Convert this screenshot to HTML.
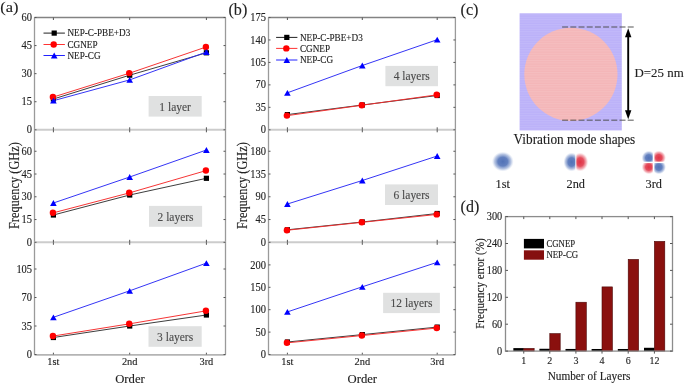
<!DOCTYPE html><html><head><meta charset="utf-8"><style>html,body{margin:0;padding:0;background:#fff;overflow:hidden}svg{display:block;will-change:transform}</style></head><body>
<svg width="685" height="384" viewBox="0 0 685 384" font-family='"Liberation Serif", serif' fill="#222">
<rect width="685" height="384" fill="#fff"/>
<line x1="34.5" y1="17.5" x2="225.5" y2="17.5" stroke="#838383" stroke-width="1.3"/>
<line x1="34.5" y1="354.8" x2="225.5" y2="354.8" stroke="#b4b4b4" stroke-width="1.8"/>
<line x1="34.5" y1="17.5" x2="34.5" y2="354.5" stroke="#9a9a9a" stroke-width="1.3"/>
<line x1="225.5" y1="17.5" x2="225.5" y2="354.5" stroke="#9a9a9a" stroke-width="1.3"/>
<line x1="34.5" y1="129.8" x2="225.5" y2="129.8" stroke="#cccccc" stroke-width="2"/>
<line x1="34.5" y1="242.3" x2="225.5" y2="242.3" stroke="#cccccc" stroke-width="2"/>
<line x1="53.4" y1="17.5" x2="53.4" y2="20.0" stroke="#555" stroke-width="1"/>
<line x1="129.7" y1="17.5" x2="129.7" y2="20.0" stroke="#555" stroke-width="1"/>
<line x1="206.4" y1="17.5" x2="206.4" y2="20.0" stroke="#555" stroke-width="1"/>
<line x1="53.4" y1="129.8" x2="53.4" y2="127.30000000000001" stroke="#555" stroke-width="1"/>
<line x1="53.4" y1="129.8" x2="53.4" y2="132.3" stroke="#555" stroke-width="1"/>
<line x1="129.7" y1="129.8" x2="129.7" y2="127.30000000000001" stroke="#555" stroke-width="1"/>
<line x1="129.7" y1="129.8" x2="129.7" y2="132.3" stroke="#555" stroke-width="1"/>
<line x1="206.4" y1="129.8" x2="206.4" y2="127.30000000000001" stroke="#555" stroke-width="1"/>
<line x1="206.4" y1="129.8" x2="206.4" y2="132.3" stroke="#555" stroke-width="1"/>
<line x1="53.4" y1="242.3" x2="53.4" y2="239.8" stroke="#555" stroke-width="1"/>
<line x1="53.4" y1="242.3" x2="53.4" y2="244.8" stroke="#555" stroke-width="1"/>
<line x1="129.7" y1="242.3" x2="129.7" y2="239.8" stroke="#555" stroke-width="1"/>
<line x1="129.7" y1="242.3" x2="129.7" y2="244.8" stroke="#555" stroke-width="1"/>
<line x1="206.4" y1="242.3" x2="206.4" y2="239.8" stroke="#555" stroke-width="1"/>
<line x1="206.4" y1="242.3" x2="206.4" y2="244.8" stroke="#555" stroke-width="1"/>
<line x1="53.4" y1="354.5" x2="53.4" y2="352.7" stroke="#555" stroke-width="1"/>
<line x1="129.7" y1="354.5" x2="129.7" y2="352.7" stroke="#555" stroke-width="1"/>
<line x1="206.4" y1="354.5" x2="206.4" y2="352.7" stroke="#555" stroke-width="1"/>
<line x1="34.5" y1="129.8" x2="36.5" y2="129.8" stroke="#555" stroke-width="1"/>
<line x1="225.5" y1="129.8" x2="223.5" y2="129.8" stroke="#555" stroke-width="1"/>
<text transform="translate(32.1 133.4) scale(1 1.12)" font-size="10.5" text-anchor="end" stroke="#222" stroke-width="0.12">0</text>
<line x1="34.5" y1="101.72500000000001" x2="36.5" y2="101.72500000000001" stroke="#555" stroke-width="1"/>
<line x1="225.5" y1="101.72500000000001" x2="223.5" y2="101.72500000000001" stroke="#555" stroke-width="1"/>
<text transform="translate(32.1 105.33) scale(1 1.12)" font-size="10.5" text-anchor="end" stroke="#222" stroke-width="0.12">15</text>
<line x1="34.5" y1="73.65" x2="36.5" y2="73.65" stroke="#555" stroke-width="1"/>
<line x1="225.5" y1="73.65" x2="223.5" y2="73.65" stroke="#555" stroke-width="1"/>
<text transform="translate(32.1 77.25) scale(1 1.12)" font-size="10.5" text-anchor="end" stroke="#222" stroke-width="0.12">30</text>
<line x1="34.5" y1="45.57500000000002" x2="36.5" y2="45.57500000000002" stroke="#555" stroke-width="1"/>
<line x1="225.5" y1="45.57500000000002" x2="223.5" y2="45.57500000000002" stroke="#555" stroke-width="1"/>
<text transform="translate(32.1 49.18) scale(1 1.12)" font-size="10.5" text-anchor="end" stroke="#222" stroke-width="0.12">45</text>
<line x1="34.5" y1="17.500000000000014" x2="36.5" y2="17.500000000000014" stroke="#555" stroke-width="1"/>
<line x1="225.5" y1="17.500000000000014" x2="223.5" y2="17.500000000000014" stroke="#555" stroke-width="1"/>
<text transform="translate(32.1 21.1) scale(1 1.12)" font-size="10.5" text-anchor="end" stroke="#222" stroke-width="0.12">60</text>
<line x1="34.5" y1="242.3" x2="36.5" y2="242.3" stroke="#555" stroke-width="1"/>
<line x1="225.5" y1="242.3" x2="223.5" y2="242.3" stroke="#555" stroke-width="1"/>
<text transform="translate(32.1 245.9) scale(1 1.12)" font-size="10.5" text-anchor="end" stroke="#222" stroke-width="0.12">0</text>
<line x1="34.5" y1="219.54000000000002" x2="36.5" y2="219.54000000000002" stroke="#555" stroke-width="1"/>
<line x1="225.5" y1="219.54000000000002" x2="223.5" y2="219.54000000000002" stroke="#555" stroke-width="1"/>
<text transform="translate(32.1 223.14) scale(1 1.12)" font-size="10.5" text-anchor="end" stroke="#222" stroke-width="0.12">15</text>
<line x1="34.5" y1="196.78" x2="36.5" y2="196.78" stroke="#555" stroke-width="1"/>
<line x1="225.5" y1="196.78" x2="223.5" y2="196.78" stroke="#555" stroke-width="1"/>
<text transform="translate(32.1 200.38) scale(1 1.12)" font-size="10.5" text-anchor="end" stroke="#222" stroke-width="0.12">30</text>
<line x1="34.5" y1="174.02" x2="36.5" y2="174.02" stroke="#555" stroke-width="1"/>
<line x1="225.5" y1="174.02" x2="223.5" y2="174.02" stroke="#555" stroke-width="1"/>
<text transform="translate(32.1 177.62) scale(1 1.12)" font-size="10.5" text-anchor="end" stroke="#222" stroke-width="0.12">45</text>
<line x1="34.5" y1="151.26" x2="36.5" y2="151.26" stroke="#555" stroke-width="1"/>
<line x1="225.5" y1="151.26" x2="223.5" y2="151.26" stroke="#555" stroke-width="1"/>
<text transform="translate(32.1 154.86) scale(1 1.12)" font-size="10.5" text-anchor="end" stroke="#222" stroke-width="0.12">60</text>
<line x1="34.5" y1="354.5" x2="36.5" y2="354.5" stroke="#555" stroke-width="1"/>
<line x1="225.5" y1="354.5" x2="223.5" y2="354.5" stroke="#555" stroke-width="1"/>
<text transform="translate(32.1 358.1) scale(1 1.12)" font-size="10.5" text-anchor="end" stroke="#222" stroke-width="0.12">0</text>
<line x1="34.5" y1="326.0" x2="36.5" y2="326.0" stroke="#555" stroke-width="1"/>
<line x1="225.5" y1="326.0" x2="223.5" y2="326.0" stroke="#555" stroke-width="1"/>
<text transform="translate(32.1 329.6) scale(1 1.12)" font-size="10.5" text-anchor="end" stroke="#222" stroke-width="0.12">35</text>
<line x1="34.5" y1="297.5" x2="36.5" y2="297.5" stroke="#555" stroke-width="1"/>
<line x1="225.5" y1="297.5" x2="223.5" y2="297.5" stroke="#555" stroke-width="1"/>
<text transform="translate(32.1 301.1) scale(1 1.12)" font-size="10.5" text-anchor="end" stroke="#222" stroke-width="0.12">70</text>
<line x1="34.5" y1="269.0" x2="36.5" y2="269.0" stroke="#555" stroke-width="1"/>
<line x1="225.5" y1="269.0" x2="223.5" y2="269.0" stroke="#555" stroke-width="1"/>
<text transform="translate(32.1 272.6) scale(1 1.12)" font-size="10.5" text-anchor="end" stroke="#222" stroke-width="0.12">105</text>
<polyline points="53.4,99 129.7,75.2 206.4,52.8" fill="none" stroke="#333" stroke-width="0.95"/>
<rect x="50.8" y="96.4" width="5.2" height="5.2" fill="#000"/>
<rect x="127.1" y="72.6" width="5.2" height="5.2" fill="#000"/>
<rect x="203.8" y="50.2" width="5.2" height="5.2" fill="#000"/>
<polyline points="53.4,97 129.7,73.1 206.4,46.9" fill="none" stroke="#f42a2a" stroke-width="0.95"/>
<circle cx="52.9" cy="97" r="3.2" fill="#f00"/>
<circle cx="129.2" cy="73.1" r="3.2" fill="#f00"/>
<circle cx="205.9" cy="46.9" r="3.2" fill="#f00"/>
<polyline points="53.4,100.7 129.7,79.9 206.4,52" fill="none" stroke="#2a2af4" stroke-width="0.95"/>
<polygon points="50.1,103.6 56.7,103.6 53.4,97.8" fill="#00f"/>
<polygon points="126.4,82.8 133,82.8 129.7,77" fill="#00f"/>
<polygon points="203.1,54.9 209.7,54.9 206.4,49.1" fill="#00f"/>
<polyline points="53.4,215 129.7,195 206.4,178.3" fill="none" stroke="#333" stroke-width="0.95"/>
<rect x="50.8" y="212.4" width="5.2" height="5.2" fill="#000"/>
<rect x="127.1" y="192.4" width="5.2" height="5.2" fill="#000"/>
<rect x="203.8" y="175.7" width="5.2" height="5.2" fill="#000"/>
<polyline points="53.4,212.8 129.7,192.8 206.4,170.5" fill="none" stroke="#f42a2a" stroke-width="0.95"/>
<circle cx="52.9" cy="212.8" r="3.2" fill="#f00"/>
<circle cx="129.2" cy="192.8" r="3.2" fill="#f00"/>
<circle cx="205.9" cy="170.5" r="3.2" fill="#f00"/>
<polyline points="53.4,203 129.7,177 206.4,150" fill="none" stroke="#2a2af4" stroke-width="0.95"/>
<polygon points="50.1,205.9 56.7,205.9 53.4,200.1" fill="#00f"/>
<polygon points="126.4,179.9 133,179.9 129.7,174.1" fill="#00f"/>
<polygon points="203.1,152.9 209.7,152.9 206.4,147.1" fill="#00f"/>
<polyline points="53.4,337.5 129.7,326 206.4,315" fill="none" stroke="#333" stroke-width="0.95"/>
<rect x="50.8" y="334.9" width="5.2" height="5.2" fill="#000"/>
<rect x="127.1" y="323.4" width="5.2" height="5.2" fill="#000"/>
<rect x="203.8" y="312.4" width="5.2" height="5.2" fill="#000"/>
<polyline points="53.4,336 129.7,323.8 206.4,310.8" fill="none" stroke="#f42a2a" stroke-width="0.95"/>
<circle cx="52.9" cy="336" r="3.2" fill="#f00"/>
<circle cx="129.2" cy="323.8" r="3.2" fill="#f00"/>
<circle cx="205.9" cy="310.8" r="3.2" fill="#f00"/>
<polyline points="53.4,317.3 129.7,290.8 206.4,263.1" fill="none" stroke="#2a2af4" stroke-width="0.95"/>
<polygon points="50.1,320.2 56.7,320.2 53.4,314.4" fill="#00f"/>
<polygon points="126.4,293.7 133,293.7 129.7,287.9" fill="#00f"/>
<polygon points="203.1,266 209.7,266 206.4,260.2" fill="#00f"/>
<line x1="43.5" y1="33.1" x2="64.9" y2="33.1" stroke="#222" stroke-width="1"/>
<rect x="51.6" y="30.5" width="5.2" height="5.2" fill="#000"/>
<text transform="translate(67.4 36.4) scale(1 1.12)" font-size="9.2" stroke="#222" stroke-width="0.12">NEP-C-PBE+D3</text>
<line x1="43.5" y1="44.5" x2="64.9" y2="44.5" stroke="#f33" stroke-width="1"/>
<circle cx="53.7" cy="44.5" r="3.2" fill="#f00"/>
<text transform="translate(67.4 47.8) scale(1 1.12)" font-size="9.2" stroke="#222" stroke-width="0.12">CGNEP</text>
<line x1="43.5" y1="55.5" x2="64.9" y2="55.5" stroke="#22f" stroke-width="1"/>
<polygon points="50.9,58.4 57.5,58.4 54.2,52.6" fill="#00f"/>
<text transform="translate(67.4 58.8) scale(1 1.12)" font-size="9.2" stroke="#222" stroke-width="0.12">NEP-CG</text>
<rect x="148.6" y="96" width="53.1" height="20.6" fill="#e0e1e1"/>
<text transform="translate(175.15 110.7) scale(1 1.12)" font-size="11.5" text-anchor="middle" fill="#4a4a4a" stroke="#4a4a4a" stroke-width="0.12">1 layer</text>
<rect x="149" y="205.9" width="53.1" height="20.9" fill="#e0e1e1"/>
<text transform="translate(175.55 220.8) scale(1 1.12)" font-size="11.5" text-anchor="middle" fill="#4a4a4a" stroke="#4a4a4a" stroke-width="0.12">2 layers</text>
<rect x="148.5" y="326.2" width="53.2" height="20.6" fill="#e0e1e1"/>
<text transform="translate(175.1 340.8) scale(1 1.12)" font-size="11.5" text-anchor="middle" fill="#4a4a4a" stroke="#4a4a4a" stroke-width="0.12">3 layers</text>
<text transform="translate(53.4 365) scale(1 1.04)" font-size="10.4" text-anchor="middle" stroke="#222" stroke-width="0.12">1st</text>
<text transform="translate(129.7 365) scale(1 1.04)" font-size="10.4" text-anchor="middle" stroke="#222" stroke-width="0.12">2nd</text>
<text transform="translate(206.4 365) scale(1 1.04)" font-size="10.4" text-anchor="middle" stroke="#222" stroke-width="0.12">3rd</text>
<text transform="translate(130 383.3) scale(1 1.02)" font-size="12.7" text-anchor="middle" stroke="#222" stroke-width="0.12">Order</text>
<text transform="translate(18.5 185.6) rotate(-90) scale(1 1.12)" font-size="12.4" text-anchor="middle" stroke="#222" stroke-width="0.12">Frequency (GHz)</text>
<text transform="translate(0.3 11.9) scale(1 0.95)" font-size="16.4" stroke="#222" stroke-width="0.12">(a)</text>
<line x1="268.5" y1="17.5" x2="455.4" y2="17.5" stroke="#838383" stroke-width="1.3"/>
<line x1="268.5" y1="354.8" x2="455.4" y2="354.8" stroke="#b4b4b4" stroke-width="1.8"/>
<line x1="268.5" y1="17.5" x2="268.5" y2="354.5" stroke="#9a9a9a" stroke-width="1.3"/>
<line x1="455.4" y1="17.5" x2="455.4" y2="354.5" stroke="#9a9a9a" stroke-width="1.3"/>
<line x1="268.5" y1="129.8" x2="455.4" y2="129.8" stroke="#cccccc" stroke-width="2"/>
<line x1="268.5" y1="242.3" x2="455.4" y2="242.3" stroke="#cccccc" stroke-width="2"/>
<line x1="287.4" y1="17.5" x2="287.4" y2="20.0" stroke="#555" stroke-width="1"/>
<line x1="362.3" y1="17.5" x2="362.3" y2="20.0" stroke="#555" stroke-width="1"/>
<line x1="437.2" y1="17.5" x2="437.2" y2="20.0" stroke="#555" stroke-width="1"/>
<line x1="287.4" y1="129.8" x2="287.4" y2="127.30000000000001" stroke="#555" stroke-width="1"/>
<line x1="287.4" y1="129.8" x2="287.4" y2="132.3" stroke="#555" stroke-width="1"/>
<line x1="362.3" y1="129.8" x2="362.3" y2="127.30000000000001" stroke="#555" stroke-width="1"/>
<line x1="362.3" y1="129.8" x2="362.3" y2="132.3" stroke="#555" stroke-width="1"/>
<line x1="437.2" y1="129.8" x2="437.2" y2="127.30000000000001" stroke="#555" stroke-width="1"/>
<line x1="437.2" y1="129.8" x2="437.2" y2="132.3" stroke="#555" stroke-width="1"/>
<line x1="287.4" y1="242.3" x2="287.4" y2="239.8" stroke="#555" stroke-width="1"/>
<line x1="287.4" y1="242.3" x2="287.4" y2="244.8" stroke="#555" stroke-width="1"/>
<line x1="362.3" y1="242.3" x2="362.3" y2="239.8" stroke="#555" stroke-width="1"/>
<line x1="362.3" y1="242.3" x2="362.3" y2="244.8" stroke="#555" stroke-width="1"/>
<line x1="437.2" y1="242.3" x2="437.2" y2="239.8" stroke="#555" stroke-width="1"/>
<line x1="437.2" y1="242.3" x2="437.2" y2="244.8" stroke="#555" stroke-width="1"/>
<line x1="287.4" y1="354.5" x2="287.4" y2="352.7" stroke="#555" stroke-width="1"/>
<line x1="362.3" y1="354.5" x2="362.3" y2="352.7" stroke="#555" stroke-width="1"/>
<line x1="437.2" y1="354.5" x2="437.2" y2="352.7" stroke="#555" stroke-width="1"/>
<line x1="268.5" y1="129.8" x2="270.5" y2="129.8" stroke="#555" stroke-width="1"/>
<line x1="455.4" y1="129.8" x2="453.4" y2="129.8" stroke="#555" stroke-width="1"/>
<text transform="translate(266 133.4) scale(1 1.12)" font-size="10.5" text-anchor="end" stroke="#222" stroke-width="0.12">0</text>
<line x1="268.5" y1="107.34" x2="270.5" y2="107.34" stroke="#555" stroke-width="1"/>
<line x1="455.4" y1="107.34" x2="453.4" y2="107.34" stroke="#555" stroke-width="1"/>
<text transform="translate(266 110.94) scale(1 1.12)" font-size="10.5" text-anchor="end" stroke="#222" stroke-width="0.12">35</text>
<line x1="268.5" y1="84.88000000000001" x2="270.5" y2="84.88000000000001" stroke="#555" stroke-width="1"/>
<line x1="455.4" y1="84.88000000000001" x2="453.4" y2="84.88000000000001" stroke="#555" stroke-width="1"/>
<text transform="translate(266 88.48) scale(1 1.12)" font-size="10.5" text-anchor="end" stroke="#222" stroke-width="0.12">70</text>
<line x1="268.5" y1="62.420000000000016" x2="270.5" y2="62.420000000000016" stroke="#555" stroke-width="1"/>
<line x1="455.4" y1="62.420000000000016" x2="453.4" y2="62.420000000000016" stroke="#555" stroke-width="1"/>
<text transform="translate(266 66.02) scale(1 1.12)" font-size="10.5" text-anchor="end" stroke="#222" stroke-width="0.12">105</text>
<line x1="268.5" y1="39.96000000000001" x2="270.5" y2="39.96000000000001" stroke="#555" stroke-width="1"/>
<line x1="455.4" y1="39.96000000000001" x2="453.4" y2="39.96000000000001" stroke="#555" stroke-width="1"/>
<text transform="translate(266 43.56) scale(1 1.12)" font-size="10.5" text-anchor="end" stroke="#222" stroke-width="0.12">140</text>
<line x1="268.5" y1="17.5" x2="270.5" y2="17.5" stroke="#555" stroke-width="1"/>
<line x1="455.4" y1="17.5" x2="453.4" y2="17.5" stroke="#555" stroke-width="1"/>
<text transform="translate(266 21.1) scale(1 1.12)" font-size="10.5" text-anchor="end" stroke="#222" stroke-width="0.12">175</text>
<line x1="268.5" y1="242.3" x2="270.5" y2="242.3" stroke="#555" stroke-width="1"/>
<line x1="455.4" y1="242.3" x2="453.4" y2="242.3" stroke="#555" stroke-width="1"/>
<text transform="translate(266 245.9) scale(1 1.12)" font-size="10.5" text-anchor="end" stroke="#222" stroke-width="0.12">0</text>
<line x1="268.5" y1="219.54000000000002" x2="270.5" y2="219.54000000000002" stroke="#555" stroke-width="1"/>
<line x1="455.4" y1="219.54000000000002" x2="453.4" y2="219.54000000000002" stroke="#555" stroke-width="1"/>
<text transform="translate(266 223.14) scale(1 1.12)" font-size="10.5" text-anchor="end" stroke="#222" stroke-width="0.12">45</text>
<line x1="268.5" y1="196.78" x2="270.5" y2="196.78" stroke="#555" stroke-width="1"/>
<line x1="455.4" y1="196.78" x2="453.4" y2="196.78" stroke="#555" stroke-width="1"/>
<text transform="translate(266 200.38) scale(1 1.12)" font-size="10.5" text-anchor="end" stroke="#222" stroke-width="0.12">90</text>
<line x1="268.5" y1="174.02" x2="270.5" y2="174.02" stroke="#555" stroke-width="1"/>
<line x1="455.4" y1="174.02" x2="453.4" y2="174.02" stroke="#555" stroke-width="1"/>
<text transform="translate(266 177.62) scale(1 1.12)" font-size="10.5" text-anchor="end" stroke="#222" stroke-width="0.12">135</text>
<line x1="268.5" y1="151.26" x2="270.5" y2="151.26" stroke="#555" stroke-width="1"/>
<line x1="455.4" y1="151.26" x2="453.4" y2="151.26" stroke="#555" stroke-width="1"/>
<text transform="translate(266 154.86) scale(1 1.12)" font-size="10.5" text-anchor="end" stroke="#222" stroke-width="0.12">180</text>
<line x1="268.5" y1="354.5" x2="270.5" y2="354.5" stroke="#555" stroke-width="1"/>
<line x1="455.4" y1="354.5" x2="453.4" y2="354.5" stroke="#555" stroke-width="1"/>
<text transform="translate(266 358.1) scale(1 1.12)" font-size="10.5" text-anchor="end" stroke="#222" stroke-width="0.12">0</text>
<line x1="268.5" y1="332.1" x2="270.5" y2="332.1" stroke="#555" stroke-width="1"/>
<line x1="455.4" y1="332.1" x2="453.4" y2="332.1" stroke="#555" stroke-width="1"/>
<text transform="translate(266 335.7) scale(1 1.12)" font-size="10.5" text-anchor="end" stroke="#222" stroke-width="0.12">50</text>
<line x1="268.5" y1="309.7" x2="270.5" y2="309.7" stroke="#555" stroke-width="1"/>
<line x1="455.4" y1="309.7" x2="453.4" y2="309.7" stroke="#555" stroke-width="1"/>
<text transform="translate(266 313.3) scale(1 1.12)" font-size="10.5" text-anchor="end" stroke="#222" stroke-width="0.12">100</text>
<line x1="268.5" y1="287.3" x2="270.5" y2="287.3" stroke="#555" stroke-width="1"/>
<line x1="455.4" y1="287.3" x2="453.4" y2="287.3" stroke="#555" stroke-width="1"/>
<text transform="translate(266 290.9) scale(1 1.12)" font-size="10.5" text-anchor="end" stroke="#222" stroke-width="0.12">150</text>
<line x1="268.5" y1="264.9" x2="270.5" y2="264.9" stroke="#555" stroke-width="1"/>
<line x1="455.4" y1="264.9" x2="453.4" y2="264.9" stroke="#555" stroke-width="1"/>
<text transform="translate(266 268.5) scale(1 1.12)" font-size="10.5" text-anchor="end" stroke="#222" stroke-width="0.12">200</text>
<polyline points="287.4,114.6 362.3,105 437.2,95.5" fill="none" stroke="#333" stroke-width="0.95"/>
<rect x="284.8" y="112" width="5.2" height="5.2" fill="#000"/>
<rect x="359.7" y="102.4" width="5.2" height="5.2" fill="#000"/>
<rect x="434.6" y="92.9" width="5.2" height="5.2" fill="#000"/>
<polyline points="287.4,115.6 362.3,105.2 437.2,94.8" fill="none" stroke="#f42a2a" stroke-width="0.95"/>
<circle cx="286.9" cy="115.6" r="3.2" fill="#f00"/>
<circle cx="361.8" cy="105.2" r="3.2" fill="#f00"/>
<circle cx="436.7" cy="94.8" r="3.2" fill="#f00"/>
<polyline points="287.4,92.8 362.3,65.5 437.2,39.7" fill="none" stroke="#2a2af4" stroke-width="0.95"/>
<polygon points="284.1,95.7 290.7,95.7 287.4,89.9" fill="#00f"/>
<polygon points="359,68.4 365.6,68.4 362.3,62.6" fill="#00f"/>
<polygon points="433.9,42.6 440.5,42.6 437.2,36.8" fill="#00f"/>
<polyline points="287.4,229.8 362.3,222 437.2,213.5" fill="none" stroke="#333" stroke-width="0.95"/>
<rect x="284.8" y="227.2" width="5.2" height="5.2" fill="#000"/>
<rect x="359.7" y="219.4" width="5.2" height="5.2" fill="#000"/>
<rect x="434.6" y="210.9" width="5.2" height="5.2" fill="#000"/>
<polyline points="287.4,230.2 362.3,222.3 437.2,214.4" fill="none" stroke="#f42a2a" stroke-width="0.95"/>
<circle cx="286.9" cy="230.2" r="3.2" fill="#f00"/>
<circle cx="361.8" cy="222.3" r="3.2" fill="#f00"/>
<circle cx="436.7" cy="214.4" r="3.2" fill="#f00"/>
<polyline points="287.4,204 362.3,180.5 437.2,156" fill="none" stroke="#2a2af4" stroke-width="0.95"/>
<polygon points="284.1,206.9 290.7,206.9 287.4,201.1" fill="#00f"/>
<polygon points="359,183.4 365.6,183.4 362.3,177.6" fill="#00f"/>
<polygon points="433.9,158.9 440.5,158.9 437.2,153.1" fill="#00f"/>
<polyline points="287.4,342.0 362.3,334.6 437.2,327.1" fill="none" stroke="#333" stroke-width="0.95"/>
<rect x="284.8" y="339.4" width="5.2" height="5.2" fill="#000"/>
<rect x="359.7" y="332" width="5.2" height="5.2" fill="#000"/>
<rect x="434.6" y="324.5" width="5.2" height="5.2" fill="#000"/>
<polyline points="287.4,342.8 362.3,335.5 437.2,328.0" fill="none" stroke="#f42a2a" stroke-width="0.95"/>
<circle cx="286.9" cy="342.8" r="3.2" fill="#f00"/>
<circle cx="361.8" cy="335.5" r="3.2" fill="#f00"/>
<circle cx="436.7" cy="328.0" r="3.2" fill="#f00"/>
<polyline points="287.4,311.9 362.3,286.8 437.2,262.3" fill="none" stroke="#2a2af4" stroke-width="0.95"/>
<polygon points="284.1,314.8 290.7,314.8 287.4,309" fill="#00f"/>
<polygon points="359,289.7 365.6,289.7 362.3,283.9" fill="#00f"/>
<polygon points="433.9,265.2 440.5,265.2 437.2,259.4" fill="#00f"/>
<line x1="276.1" y1="37.4" x2="297.4" y2="37.4" stroke="#222" stroke-width="1"/>
<rect x="284.2" y="34.8" width="5.2" height="5.2" fill="#000"/>
<text transform="translate(299.9 40.7) scale(1 1.12)" font-size="9.2" stroke="#222" stroke-width="0.12">NEP-C-PBE+D3</text>
<line x1="276.1" y1="48.4" x2="297.4" y2="48.4" stroke="#f33" stroke-width="1"/>
<circle cx="286.3" cy="48.4" r="3.2" fill="#f00"/>
<text transform="translate(299.9 51.7) scale(1 1.12)" font-size="9.2" stroke="#222" stroke-width="0.12">CGNEP</text>
<line x1="276.1" y1="60" x2="297.4" y2="60" stroke="#22f" stroke-width="1"/>
<polygon points="283.5,62.9 290.1,62.9 286.8,57.1" fill="#00f"/>
<text transform="translate(299.9 63.3) scale(1 1.12)" font-size="9.2" stroke="#222" stroke-width="0.12">NEP-CG</text>
<rect x="385.4" y="65.9" width="52.6" height="20.3" fill="#e0e1e1"/>
<text transform="translate(411.7 80.3) scale(1 1.12)" font-size="11.5" text-anchor="middle" fill="#4a4a4a" stroke="#4a4a4a" stroke-width="0.12">4 layers</text>
<rect x="385" y="184.4" width="53" height="20.6" fill="#e0e1e1"/>
<text transform="translate(411.5 199) scale(1 1.12)" font-size="11.5" text-anchor="middle" fill="#4a4a4a" stroke="#4a4a4a" stroke-width="0.12">6 layers</text>
<rect x="383.1" y="292.8" width="56.8" height="20.3" fill="#e0e1e1"/>
<text transform="translate(411.5 307.2) scale(1 1.12)" font-size="11.5" text-anchor="middle" fill="#4a4a4a" stroke="#4a4a4a" stroke-width="0.12">12 layers</text>
<text transform="translate(287.4 365) scale(1 1.04)" font-size="10.4" text-anchor="middle" stroke="#222" stroke-width="0.12">1st</text>
<text transform="translate(362.3 365) scale(1 1.04)" font-size="10.4" text-anchor="middle" stroke="#222" stroke-width="0.12">2nd</text>
<text transform="translate(437.2 365) scale(1 1.04)" font-size="10.4" text-anchor="middle" stroke="#222" stroke-width="0.12">3rd</text>
<text transform="translate(362.3 383.3) scale(1 1.02)" font-size="12.7" text-anchor="middle" stroke="#222" stroke-width="0.12">Order</text>
<text transform="translate(247.2 185.6) rotate(-90) scale(1 1.12)" font-size="12.4" text-anchor="middle" stroke="#222" stroke-width="0.12">Frequency (GHz)</text>
<text transform="translate(228.4 14.5) scale(1 0.97)" font-size="16.2" stroke="#222" stroke-width="0.12">(b)</text>
<text transform="translate(460.5 15.2) scale(1 1.0)" font-size="16.2" stroke="#222" stroke-width="0.12">(c)</text>
<defs><pattern id="stp" width="5" height="2.4" patternUnits="userSpaceOnUse"><rect width="5" height="1.0" fill="#fff" fill-opacity="0.10"/></pattern><radialGradient id="gb"><stop offset="0" stop-color="#4c6db4" stop-opacity="0.97"/><stop offset="0.45" stop-color="#5676ba" stop-opacity="0.92"/><stop offset="0.75" stop-color="#7f98cc" stop-opacity="0.55"/><stop offset="1" stop-color="#c0cfea" stop-opacity="0"/></radialGradient><radialGradient id="gr"><stop offset="0" stop-color="#df2c3e" stop-opacity="0.97"/><stop offset="0.45" stop-color="#e23e50" stop-opacity="0.92"/><stop offset="0.75" stop-color="#ea7884" stop-opacity="0.55"/><stop offset="1" stop-color="#f6cdd2" stop-opacity="0"/></radialGradient><clipPath id="c2l"><rect x="560" y="145" width="15.4" height="35"/></clipPath><clipPath id="c2r"><rect x="576.3" y="145" width="15" height="35"/></clipPath><clipPath id="c3tl"><rect x="638" y="148" width="14.8" height="13.7"/></clipPath><clipPath id="c3tr"><rect x="654.3" y="148" width="15" height="13.7"/></clipPath><clipPath id="c3bl"><rect x="638" y="163.1" width="14.8" height="14"/></clipPath><clipPath id="c3br"><rect x="654.3" y="163.1" width="15" height="14"/></clipPath></defs>
<rect x="519.6" y="13.3" width="102.2" height="117.1" fill="#bbb1f9"/>
<circle cx="570.9" cy="74.35" r="46.6" fill="#f4b6b8"/>
<rect x="519.6" y="13.3" width="102.2" height="117.1" fill="url(#stp)"/>
<line x1="562.1" y1="27" x2="634.3" y2="27" stroke="#444" stroke-opacity="0.6" stroke-width="1.6" stroke-dasharray="6 2.2"/>
<line x1="562.1" y1="120.3" x2="634.3" y2="120.3" stroke="#444" stroke-opacity="0.6" stroke-width="1.6" stroke-dasharray="6 2.2"/>
<line x1="628.2" y1="35" x2="628.2" y2="112" stroke="#000" stroke-width="1.9"/>
<polygon points="628.2,28.3 625,37.2 631.4,37.2" fill="#000"/>
<polygon points="628.2,119.2 625,110.3 631.4,110.3" fill="#000"/>
<text transform="translate(634.5 76.7) scale(1 1.0)" font-size="12.9" stroke="#222" stroke-width="0.12">D=25 nm</text>
<text transform="translate(574.4 144.1) scale(1 1.05)" font-size="13.3" text-anchor="middle" stroke="#222" stroke-width="0.12">Vibration mode shapes</text>
<ellipse cx="502.8" cy="161.6" rx="11" ry="10" fill="url(#gb)"/>
<ellipse cx="571.6" cy="162.0" rx="8.2" ry="9.6" fill="url(#gb)" clip-path="url(#c2l)"/>
<ellipse cx="580.2" cy="162.0" rx="8.2" ry="9.6" fill="url(#gr)" clip-path="url(#c2r)"/>
<circle cx="648.8" cy="157.9" r="7.3" fill="url(#gb)" clip-path="url(#c3tl)"/>
<circle cx="658.8" cy="157.7" r="7.3" fill="url(#gr)" clip-path="url(#c3tr)"/>
<circle cx="648.8" cy="167.1" r="7.3" fill="url(#gr)" clip-path="url(#c3bl)"/>
<circle cx="658.8" cy="167.1" r="7.3" fill="url(#gb)" clip-path="url(#c3br)"/>
<text transform="translate(502.8 187.5) scale(1 1.05)" font-size="12.3" text-anchor="middle" stroke="#222" stroke-width="0.12">1st</text>
<text transform="translate(575.7 187.5) scale(1 1.05)" font-size="12.3" text-anchor="middle" stroke="#222" stroke-width="0.12">2nd</text>
<text transform="translate(653.8 188.2) scale(1 1.05)" font-size="12.3" text-anchor="middle" stroke="#222" stroke-width="0.12">3rd</text>
<text transform="translate(460.6 211.7) scale(1 1.07)" font-size="16" stroke="#222" stroke-width="0.12">(d)</text>
<rect x="513.35" y="348.1" width="10.4" height="3" fill="#000"/>
<rect x="523.75" y="348.41" width="10.4" height="2.69" fill="#8a100e" stroke="#4a0505" stroke-width="0.6"/>
<rect x="539.4" y="348.77" width="10.4" height="2.33" fill="#000"/>
<rect x="549.8" y="333.62" width="10.4" height="17.49" fill="#8a100e" stroke="#4a0505" stroke-width="0.6"/>
<rect x="565.5" y="348.95" width="10.4" height="2.15" fill="#000"/>
<rect x="575.9" y="302.23" width="10.4" height="48.87" fill="#8a100e" stroke="#4a0505" stroke-width="0.6"/>
<rect x="591.6" y="348.99" width="10.4" height="2.11" fill="#000"/>
<rect x="602" y="286.9" width="10.4" height="64.2" fill="#8a100e" stroke="#4a0505" stroke-width="0.6"/>
<rect x="617.8" y="348.99" width="10.4" height="2.11" fill="#000"/>
<rect x="628.2" y="259.42" width="10.4" height="91.68" fill="#8a100e" stroke="#4a0505" stroke-width="0.6"/>
<rect x="644" y="347.78" width="10.4" height="3.32" fill="#000"/>
<rect x="654.4" y="241.39" width="10.4" height="109.71" fill="#8a100e" stroke="#4a0505" stroke-width="0.6"/>
<rect x="505.5" y="216.6" width="167.0" height="134.5" fill="none" stroke="#8c8c8c" stroke-width="1.3"/>
<line x1="505.5" y1="351.1" x2="508.0" y2="351.1" stroke="#555" stroke-width="1"/>
<line x1="672.5" y1="351.1" x2="670.0" y2="351.1" stroke="#555" stroke-width="1"/>
<text transform="translate(502.2 354.7) scale(1 1.12)" font-size="10.3" text-anchor="end" stroke="#222" stroke-width="0.12">0</text>
<line x1="505.5" y1="324.2" x2="508.0" y2="324.2" stroke="#555" stroke-width="1"/>
<line x1="672.5" y1="324.2" x2="670.0" y2="324.2" stroke="#555" stroke-width="1"/>
<text transform="translate(502.2 327.8) scale(1 1.12)" font-size="10.3" text-anchor="end" stroke="#222" stroke-width="0.12">60</text>
<line x1="505.5" y1="297.3" x2="508.0" y2="297.3" stroke="#555" stroke-width="1"/>
<line x1="672.5" y1="297.3" x2="670.0" y2="297.3" stroke="#555" stroke-width="1"/>
<text transform="translate(502.2 300.9) scale(1 1.12)" font-size="10.3" text-anchor="end" stroke="#222" stroke-width="0.12">120</text>
<line x1="505.5" y1="270.4" x2="508.0" y2="270.4" stroke="#555" stroke-width="1"/>
<line x1="672.5" y1="270.4" x2="670.0" y2="270.4" stroke="#555" stroke-width="1"/>
<text transform="translate(502.2 274) scale(1 1.12)" font-size="10.3" text-anchor="end" stroke="#222" stroke-width="0.12">180</text>
<line x1="505.5" y1="243.5" x2="508.0" y2="243.5" stroke="#555" stroke-width="1"/>
<line x1="672.5" y1="243.5" x2="670.0" y2="243.5" stroke="#555" stroke-width="1"/>
<text transform="translate(502.2 247.1) scale(1 1.12)" font-size="10.3" text-anchor="end" stroke="#222" stroke-width="0.12">240</text>
<line x1="505.5" y1="216.6" x2="508.0" y2="216.6" stroke="#555" stroke-width="1"/>
<line x1="672.5" y1="216.6" x2="670.0" y2="216.6" stroke="#555" stroke-width="1"/>
<text transform="translate(502.2 220.2) scale(1 1.12)" font-size="10.3" text-anchor="end" stroke="#222" stroke-width="0.12">300</text>
<line x1="523.75" y1="351.1" x2="523.75" y2="353.6" stroke="#555" stroke-width="1"/>
<line x1="523.75" y1="216.6" x2="523.75" y2="219.1" stroke="#555" stroke-width="1"/>
<text transform="translate(523.75 363.6) scale(1 1.12)" font-size="10" text-anchor="middle" stroke="#222" stroke-width="0.12">1</text>
<line x1="549.8" y1="351.1" x2="549.8" y2="353.6" stroke="#555" stroke-width="1"/>
<line x1="549.8" y1="216.6" x2="549.8" y2="219.1" stroke="#555" stroke-width="1"/>
<text transform="translate(549.8 363.6) scale(1 1.12)" font-size="10" text-anchor="middle" stroke="#222" stroke-width="0.12">2</text>
<line x1="575.9" y1="351.1" x2="575.9" y2="353.6" stroke="#555" stroke-width="1"/>
<line x1="575.9" y1="216.6" x2="575.9" y2="219.1" stroke="#555" stroke-width="1"/>
<text transform="translate(575.9 363.6) scale(1 1.12)" font-size="10" text-anchor="middle" stroke="#222" stroke-width="0.12">3</text>
<line x1="602.0" y1="351.1" x2="602.0" y2="353.6" stroke="#555" stroke-width="1"/>
<line x1="602.0" y1="216.6" x2="602.0" y2="219.1" stroke="#555" stroke-width="1"/>
<text transform="translate(602 363.6) scale(1 1.12)" font-size="10" text-anchor="middle" stroke="#222" stroke-width="0.12">4</text>
<line x1="628.2" y1="351.1" x2="628.2" y2="353.6" stroke="#555" stroke-width="1"/>
<line x1="628.2" y1="216.6" x2="628.2" y2="219.1" stroke="#555" stroke-width="1"/>
<text transform="translate(628.2 363.6) scale(1 1.12)" font-size="10" text-anchor="middle" stroke="#222" stroke-width="0.12">6</text>
<line x1="654.4" y1="351.1" x2="654.4" y2="353.6" stroke="#555" stroke-width="1"/>
<line x1="654.4" y1="216.6" x2="654.4" y2="219.1" stroke="#555" stroke-width="1"/>
<text transform="translate(654.4 363.6) scale(1 1.12)" font-size="10" text-anchor="middle" stroke="#222" stroke-width="0.12">12</text>
<rect x="523.9" y="238.9" width="20.1" height="9.5" fill="#000"/>
<rect x="523.9" y="250.3" width="20.1" height="9.4" fill="#850f0f"/>
<text transform="translate(546.4 247.2) scale(1 1.12)" font-size="8.8" stroke="#222" stroke-width="0.12">CGNEP</text>
<text transform="translate(546.4 258.1) scale(1 1.12)" font-size="8.8" stroke="#222" stroke-width="0.12">NEP-CG</text>
<text transform="translate(589 379.6) scale(1 1.12)" font-size="11.3" text-anchor="middle" stroke="#222" stroke-width="0.12">Number of Layers</text>
<text transform="translate(484.4 283.6) rotate(-90) scale(1 1.12)" font-size="11.1" text-anchor="middle" stroke="#222" stroke-width="0.12">Frequency error (%)</text>
</svg></body></html>
